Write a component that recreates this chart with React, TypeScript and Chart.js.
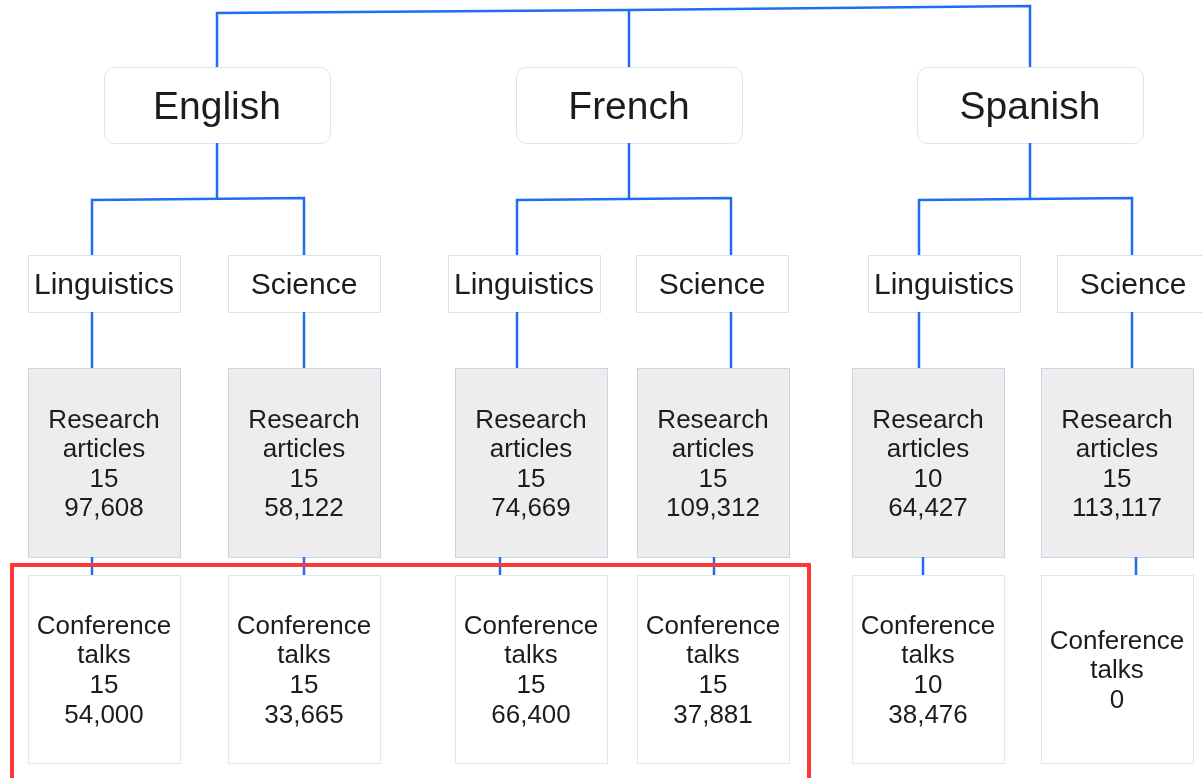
import React, { useEffect, useRef } from "react";
import { Chart, registerables } from "chart.js";

Chart.register(...registerables);

// ---------------- data ----------------
const languages = ["English", "French", "Spanish"];
const fields = ["Linguistics", "Science"];
const researchLabel = ["Research", "articles"];
const talkLabel = ["Conference", "talks"];
// leaves ordered: English-Linguistics, English-Science, French-Linguistics, French-Science, Spanish-Linguistics, Spanish-Science
const researchCounts = [15, 15, 15, 15, 10, 15];
const researchTokens = [97608, 58122, 74669, 109312, 64427, 113117];
const talkCounts = [15, 15, 15, 15, 10, 0];
const talkTokens: (number | null)[] = [54000, 33665, 66400, 37881, 38476, null];
const highlightedLeaves = [0, 1, 2, 3];

// ---------------- layout (in scale units) ----------------
const langX = [217, 629, 1030];
const langBarY = [13, 10, 6];
const langBox = { top: 67, bottom: 143, half: 113, radius: 10 };
const branchY = 199;
const fieldBranchX = [92, 304, 517, 731, 919, 1132];
const fieldBoxX = [104, 304, 524, 712, 944, 1133];
const leafBoxX = [104, 304, 531, 713, 928, 1117];
const talkLinkX = [92, 304, 500, 714, 923, 1136];
const fieldBox = { top: 255, bottom: 312, half: 76 };
const researchBox = { top: 368, bottom: 557, half: 76 };
const talkBox = { top: 575, bottom: 763, half: 76 };
const highlightPad = { left: 16, right: 20, top: 10, bottom: 40 };

const FONT = '"Liberation Sans", Arial, sans-serif';
const BLUE = "#1f6ef2";
const TEXT = "#1c1c1c";

const fmt = (n: number) => n.toLocaleString("en-US");

function buildConnectors() {
  const sets: { x: number; y: number }[][] = [];
  // top bar joining languages
  sets.push([
    { x: langX[0], y: langBox.top },
    { x: langX[0], y: langBarY[0] },
    { x: langX[1], y: langBarY[1] },
    { x: langX[2], y: langBarY[2] },
    { x: langX[2], y: langBox.top },
  ]);
  sets.push([
    { x: langX[1], y: langBarY[1] },
    { x: langX[1], y: langBox.top },
  ]);
  languages.forEach((_, i) => {
    const l = i * 2;
    const r = i * 2 + 1;
    sets.push([
      { x: langX[i], y: langBox.bottom },
      { x: langX[i], y: branchY },
    ]);
    sets.push([
      { x: fieldBranchX[l], y: fieldBox.top },
      { x: fieldBranchX[l], y: branchY + 1 },
      { x: fieldBranchX[r], y: branchY - 1 },
      { x: fieldBranchX[r], y: fieldBox.top },
    ]);
  });
  researchCounts.forEach((_, k) => {
    sets.push([
      { x: fieldBranchX[k], y: fieldBox.bottom },
      { x: fieldBranchX[k], y: researchBox.top },
    ]);
    sets.push([
      { x: talkLinkX[k], y: researchBox.bottom },
      { x: talkLinkX[k], y: talkBox.top },
    ]);
  });
  return sets;
}

function drawLines(
  ctx: CanvasRenderingContext2D,
  lines: string[],
  cx: number,
  cy: number,
  size: number,
  lh: number
) {
  ctx.font = `${size}px ${FONT}`;
  ctx.fillStyle = TEXT;
  ctx.textAlign = "center";
  ctx.textBaseline = "alphabetic";
  const n = lines.length;
  lines.forEach((t, i) => {
    const capCenter = cy + (i - (n - 1) / 2) * lh;
    ctx.fillText(t, cx, capCenter + 0.358 * size);
  });
}

const treePlugin = {
  id: "treePlugin",
  beforeDatasetsDraw(chart: any) {
    const { ctx, scales } = chart;
    const px = (v: number) => scales.x.getPixelForValue(v);
    const py = (v: number) => scales.y.getPixelForValue(v);
    ctx.save();
    // language boxes
    languages.forEach((_, i) => {
      const x0 = px(langX[i] - langBox.half);
      const x1 = px(langX[i] + langBox.half);
      const y0 = py(langBox.top);
      const y1 = py(langBox.bottom);
      ctx.beginPath();
      ctx.roundRect(x0 + 0.5, y0 + 0.5, x1 - x0, y1 - y0, langBox.radius);
      ctx.fillStyle = "#ffffff";
      ctx.fill();
      ctx.strokeStyle = "#dfe5ee";
      ctx.lineWidth = 1;
      ctx.stroke();
    });
    const rect = (cx: number, b: { top: number; bottom: number; half: number }, fill: string, stroke: string) => {
      const x0 = Math.round(px(cx - b.half)) + 0.5;
      const x1 = Math.round(px(cx + b.half)) + 0.5;
      const y0 = Math.round(py(b.top)) + 0.5;
      const y1 = Math.round(py(b.bottom)) + 0.5;
      ctx.fillStyle = fill;
      ctx.fillRect(x0, y0, x1 - x0, y1 - y0);
      ctx.strokeStyle = stroke;
      ctx.lineWidth = 1;
      ctx.strokeRect(x0, y0, x1 - x0, y1 - y0);
    };
    researchCounts.forEach((_, k) => {
      rect(fieldBoxX[k], fieldBox, "#ffffff", "#d9e1ed");
      rect(leafBoxX[k], researchBox, "#ededed", "#c8d4e7");
      rect(leafBoxX[k], talkBox, "#ffffff", "#dfe6f1");
    });
    ctx.restore();
  },
  afterDatasetsDraw(chart: any) {
    const { ctx, scales } = chart;
    const px = (v: number) => scales.x.getPixelForValue(v);
    const py = (v: number) => scales.y.getPixelForValue(v);
    ctx.save();
    languages.forEach((name, i) => {
      drawLines(ctx, [name], px(langX[i]), py((langBox.top + langBox.bottom) / 2), 39, 0);
    });
    researchCounts.forEach((rc, k) => {
      drawLines(ctx, [fields[k % 2]], px(fieldBoxX[k]), py((fieldBox.top + fieldBox.bottom) / 2), 30, 0);
      drawLines(
        ctx,
        [...researchLabel, String(rc), fmt(researchTokens[k])],
        px(leafBoxX[k]),
        py((researchBox.top + researchBox.bottom) / 2),
        26,
        29.5
      );
      const tl = [...talkLabel, String(talkCounts[k])];
      const tt = talkTokens[k];
      if (tt !== null) tl.push(fmt(tt));
      drawLines(ctx, tl, px(leafBoxX[k]), py((talkBox.top + talkBox.bottom) / 2), 26, 29.7);
    });
    // highlight frame around selected conference-talk boxes
    const first = highlightedLeaves[0];
    const last = highlightedLeaves[highlightedLeaves.length - 1];
    const hx0 = px(leafBoxX[first] - talkBox.half - highlightPad.left);
    const hx1 = px(leafBoxX[last] + talkBox.half + highlightPad.right);
    const hy0 = py(talkBox.top - highlightPad.top);
    const hy1 = py(talkBox.bottom + highlightPad.bottom);
    ctx.strokeStyle = "#fb3838";
    ctx.lineWidth = 4;
    ctx.strokeRect(hx0, hy0, hx1 - hx0, hy1 - hy0);
    ctx.restore();
  },
};

export default function App() {
  const ref = useRef<HTMLCanvasElement | null>(null);
  useEffect(() => {
    if (!ref.current) return;
    const connectors = buildConnectors();
    const chart = new Chart(ref.current, {
      type: "scatter",
      data: {
        datasets: connectors.map((pts) => ({
          type: "line" as const,
          data: pts,
          showLine: true,
          borderColor: BLUE,
          borderWidth: 2.5,
          pointRadius: 0,
          fill: false,
          tension: 0,
          borderJoinStyle: "miter" as const,
        })),
      },
      options: {
        animation: false,
        responsive: false,
        devicePixelRatio: 1,
        layout: { padding: 0 },
        events: [],
        scales: {
          x: { type: "linear", min: 0, max: 1202, display: false },
          y: { type: "linear", min: 0, max: 778, reverse: true, display: false },
        },
        plugins: { legend: { display: false }, tooltip: { enabled: false } },
      },
      plugins: [treePlugin],
    });
    return () => chart.destroy();
  }, []);
  return (
    <div style={{ position: "fixed", left: 0, top: 0, width: 1202, height: 778, background: "#fff" }}>
      <canvas ref={ref} width={1202} height={778} style={{ display: "block" }} />
    </div>
  );
}
